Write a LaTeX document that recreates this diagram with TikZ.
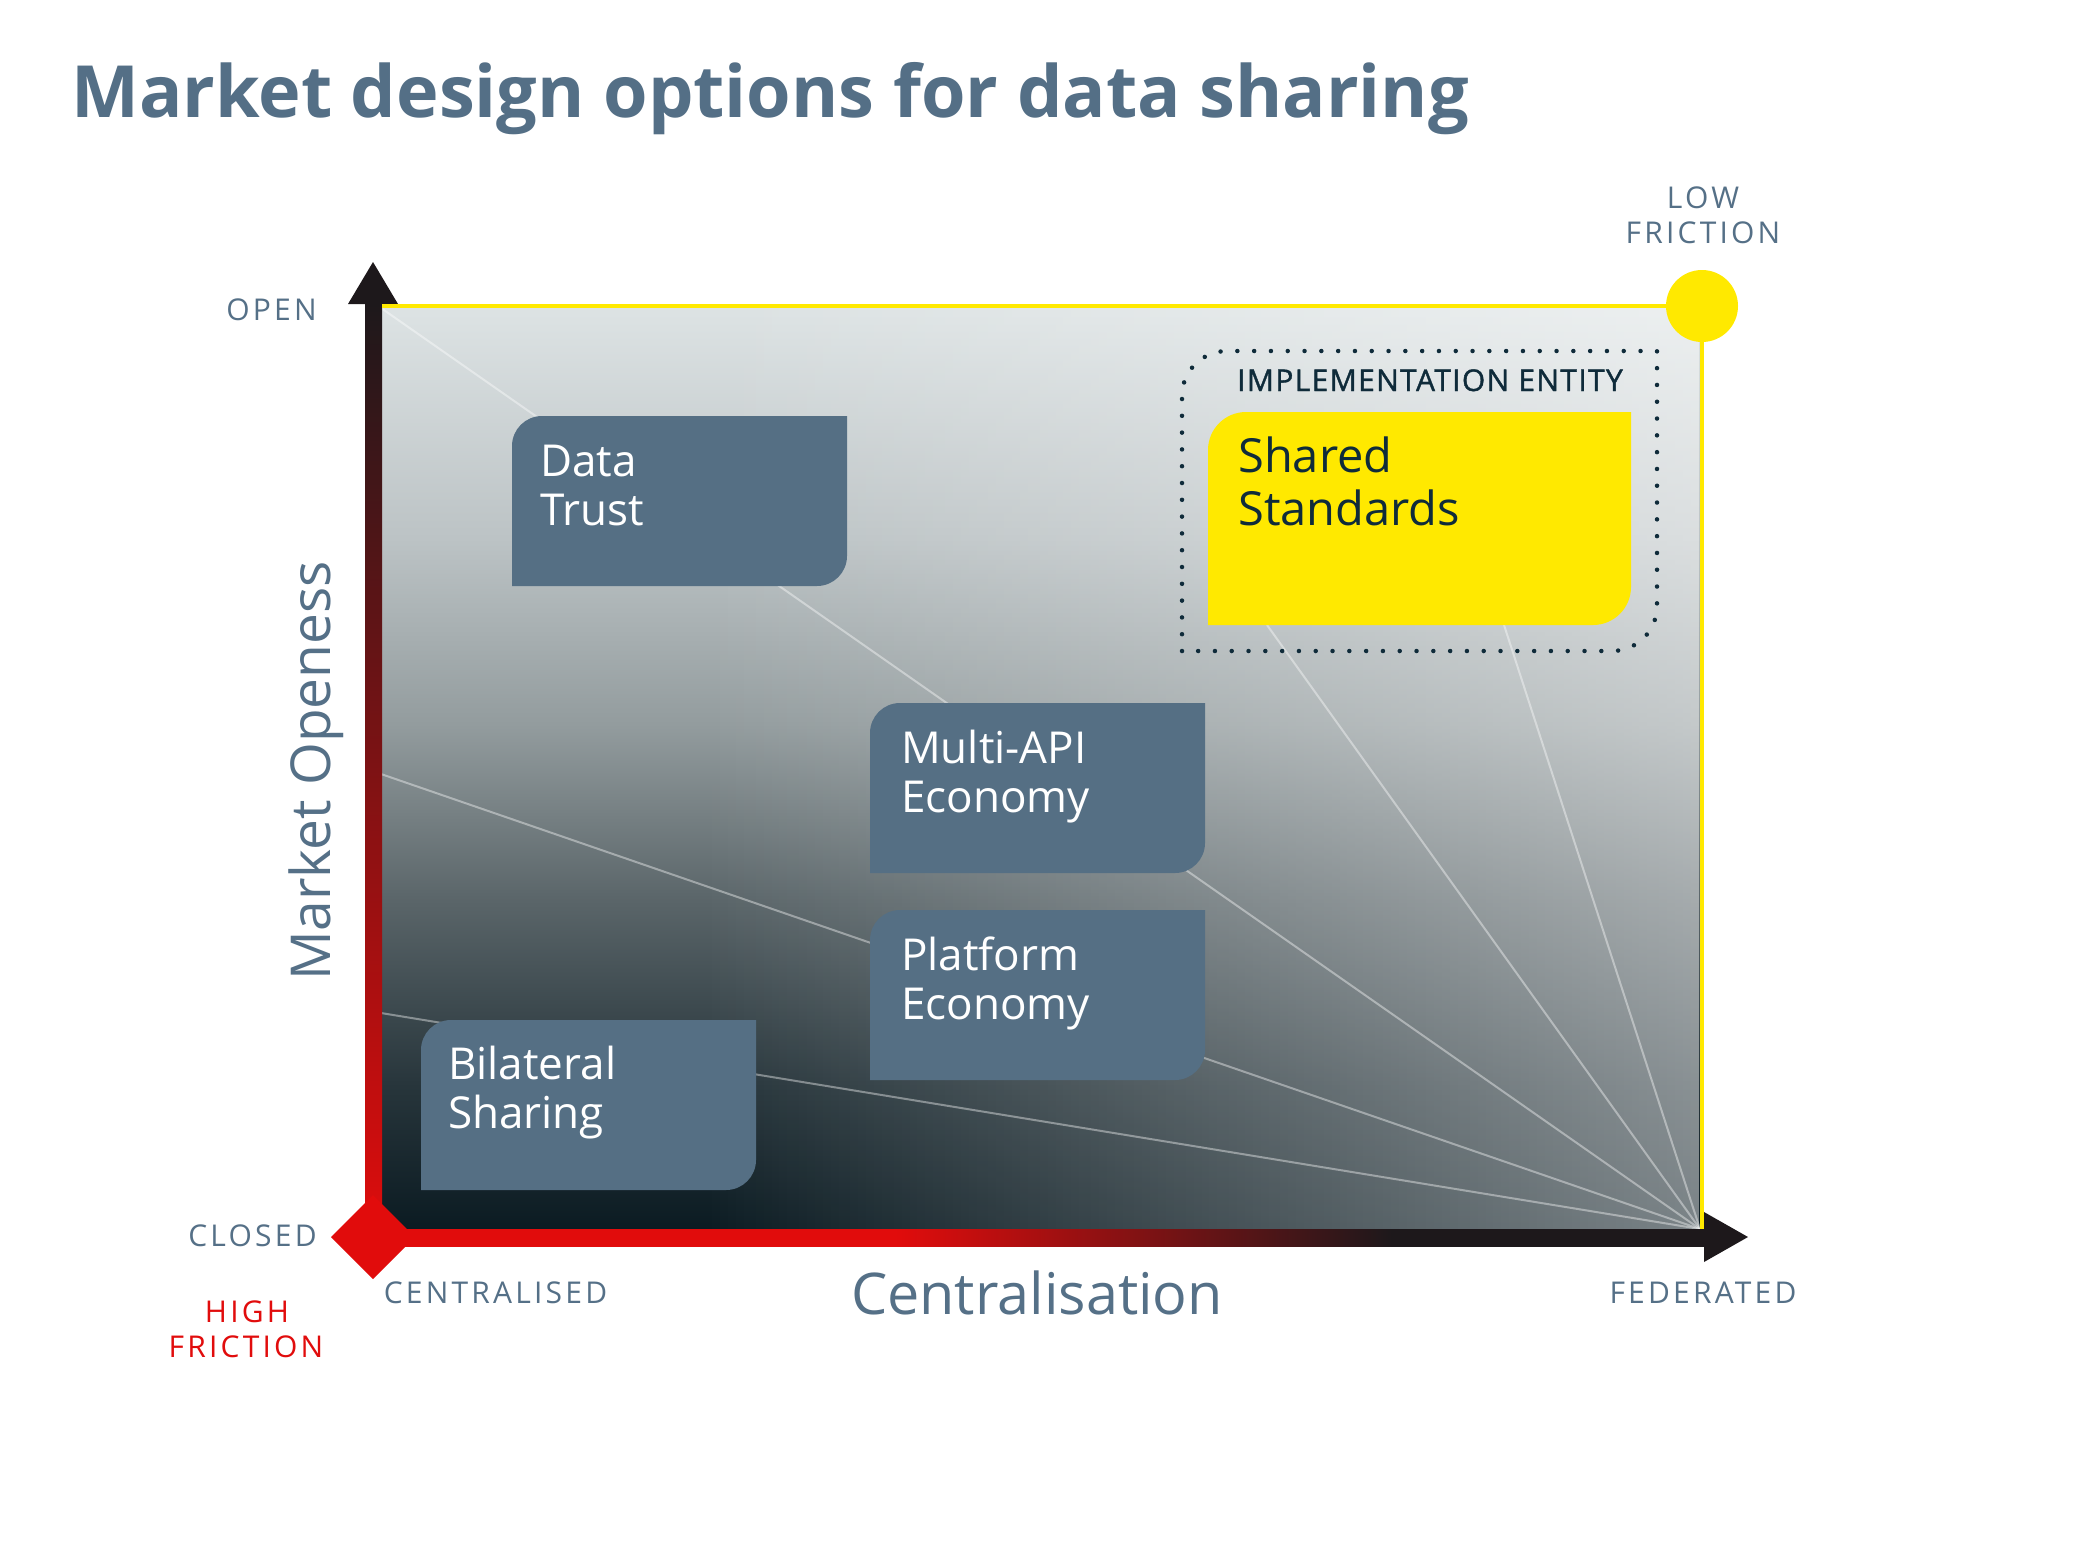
\documentclass[tikz,border=0pt]{standalone}
\usepackage{fontspec}
\setmainfont{Open Sans}
\usetikzlibrary{fadings}
\definecolor{slate}{HTML}{557087}
\definecolor{titlec}{HTML}{546F86}
\definecolor{boxc}{HTML}{556F84}
\definecolor{axred}{HTML}{E10C0C}
\definecolor{axdark}{HTML}{1D181B}
\definecolor{ylw}{HTML}{FFE900}
\definecolor{navy}{HTML}{0F2B3A}
\definecolor{bgA}{HTML}{DDE3E4}
\definecolor{bgB}{HTML}{BCC3C5}
\definecolor{bgC}{HTML}{939C9E}
\definecolor{bgD}{HTML}{5A6569}
\definecolor{bgE}{HTML}{27353B}
\definecolor{bgF}{HTML}{0A1A21}
\pgfdeclareverticalshading{plotbg}{100bp}{color(0bp)=(bgF); color(25bp)=(bgF); color(33bp)=(bgE); color(43bp)=(bgD); color(52.5bp)=(bgC); color(62.5bp)=(bgB); color(75bp)=(bgA); color(100bp)=(bgA)}
\pgfdeclarehorizontalshading{hbar}{100bp}{color(0bp)=(axred); color(25bp)=(axred); color(44.8bp)=(axred); color(63.3bp)=(axdark); color(75bp)=(axdark); color(100bp)=(axdark)}
\tikzfading[name=whiteright, left color=transparent!100, middle color=transparent!50, right color=transparent!0]
\newcommand\leafpath[5]{(#1,#4) -- (#1,{#2+#5}) .. controls (#1,{#2+0.448*#5}) and ({#1+0.448*#5},#2) .. ({#1+#5},#2) -- (#3,#2) -- (#3,{#4-#5}) .. controls (#3,{#4-0.448*#5}) and ({#3-0.448*#5},#4) .. ({#3-#5},#4) -- cycle}
\begin{document}
\begin{tikzpicture}[x=1pt,y=-1pt,
  lbl/.style={text=slate, inner sep=0, font=\fontsize{30}{36}\selectfont\addfontfeature{LetterSpace=10.7}},
  boxtxt/.style={text=white, inner sep=0, anchor=base west, font=\fontsize{44}{49}\selectfont},
  stdtxt/.style={text=navy, inner sep=0, anchor=base west, font=\fontsize{47}{53}\selectfont},
  fanline/.style={draw=white, draw opacity=0.4, line width=2},
  dotline/.style={draw=navy, line width=4.5, line cap=round, dash pattern=on 0pt off 16.8pt}]
\useasboundingbox (0,0) rectangle (2075,1543);
\fill[white] (0,0) rectangle (2075,1543);

% title
\node[anchor=base west, inner sep=0, text=titlec, font=\fontsize{72}{80}\selectfont\bfseries] (title) at (71,117) {Market design options for data sharing};

% plot background
\shade[shading=plotbg] (375,306) rectangle (1702,1235);
\fill[white, fill opacity=0.46, path fading=whiteright] (700,306) rectangle (1702,1235);

% fan lines
\coordinate (fan) at (1700,1229);
\coordinate (f1) at (381,308);
\coordinate (f2) at (381,774);
\coordinate (f3) at (381,1013);
\coordinate (f4) at (1267,625);
\coordinate (f5) at (1504,625);
\foreach \c in {f1,f2,f3,f4,f5} \draw[fanline] (\c) -- (fan);

% boxes
\fill[boxc] \leafpath{512}{416}{847}{586}{30};
\fill[boxc] \leafpath{870}{703}{1205}{873}{30};
\fill[boxc] \leafpath{870}{910}{1205}{1080}{30};
\fill[boxc] \leafpath{421}{1020}{756}{1190}{30};
\draw[dotline] \leafpath{1182}{351}{1657}{651}{45};
\fill[ylw] \leafpath{1208}{412}{1631}{625}{38};

\node[boxtxt] (dt1) at (540,476) {Data};
\node[boxtxt] (dt2) at (540,525) {Trust};
\node[boxtxt] (ma1) at (901,763) {Multi-API};
\node[boxtxt] (ma2) at (901,812) {Economy};
\node[boxtxt] (pe1) at (901,970) {Platform};
\node[boxtxt] (pe2) at (901,1019) {Economy};
\node[boxtxt] (bs1) at (448,1079) {Bilateral};
\node[boxtxt] (bs2) at (448,1128) {Sharing};
\node[stdtxt] (ss1) at (1238,472) {Shared};
\node[stdtxt] (ss2) at (1238,525) {Standards};
\node[text=navy, inner sep=0, anchor=base west, font=\fontsize{30}{36}\selectfont\addfontfeature{LetterSpace=4.5,FakeBold=1.2}] (impl) at (1237,391) {IMPLEMENTATION ENTITY};

% axes
\shade[top color=axdark, bottom color=axred] (365,304) rectangle (382,1246);
\shade[shading=hbar] (365,1229) rectangle (1705,1246);
\fill[axdark] (348,304) -- (373,262) -- (398,304) -- cycle;
\fill[axdark] (1704,1212) -- (1748,1237) -- (1704,1262) -- cycle;
\fill[axred] (331,1237) -- (373,1195) -- (415,1237) -- (373,1279) -- cycle;
\draw[ylw, line width=4] (382,306) -- (1702,306) -- (1702,1229);
\fill[ylw] (1702,306) circle (36);

% axis titles
\node[rotate=90, anchor=base, inner sep=0, text=slate, font=\fontsize{55}{60}\selectfont] (yax) at (330,771) {Market Openess};
\node[anchor=base, inner sep=0, text=slate, font=\fontsize{57.5}{60}\selectfont] (xax) at (1037,1314) {Centralisation};

% labels
\node[lbl] (open) at (271.5,310) {OPEN};
\node[lbl] (closed) at (252.5,1236) {CLOSED};
\node[lbl] (central) at (495.5,1293) {CENTRALISED};
\node[lbl] (fed) at (1703,1293) {FEDERATED};
\node[lbl] (low1) at (1703,198) {LOW};
\node[lbl] (low2) at (1703,233) {FRICTION};
\node[lbl, text=axred] (high1) at (247,1312) {HIGH};
\node[lbl, text=axred] (high2) at (246,1347) {FRICTION};
\end{tikzpicture}
\end{document}
